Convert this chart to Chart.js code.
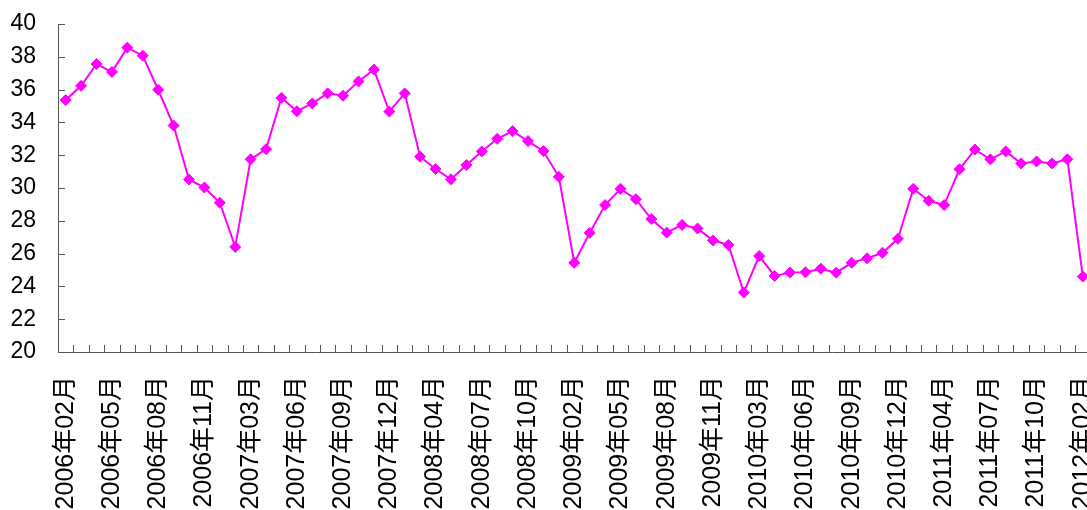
<!DOCTYPE html>
<html>
<head>
<meta charset="utf-8">
<script src="https://cdn.jsdelivr.net/npm/chart.js@4/dist/chart.umd.min.js"></script>
<style>
  html, body { margin: 0; padding: 0; background: #fff; overflow: hidden; }
  body { width: 1087px; height: 510px; }
  #wrap { position: relative; width: 1097px; height: 510px; }
</style>
</head>
<body>
<div id="wrap"><canvas id="c"></canvas></div>
<script>
// Monthly series (January folded into February each year)
const categories = [
  '2006年02月','2006年03月','2006年04月','2006年05月','2006年06月','2006年07月','2006年08月','2006年09月','2006年10月','2006年11月','2006年12月',
  '2007年02月','2007年03月','2007年04月','2007年05月','2007年06月','2007年07月','2007年08月','2007年09月','2007年10月','2007年11月','2007年12月',
  '2008年02月','2008年03月','2008年04月','2008年05月','2008年06月','2008年07月','2008年08月','2008年09月','2008年10月','2008年11月','2008年12月',
  '2009年02月','2009年03月','2009年04月','2009年05月','2009年06月','2009年07月','2009年08月','2009年09月','2009年10月','2009年11月','2009年12月',
  '2010年02月','2010年03月','2010年04月','2010年05月','2010年06月','2010年07月','2010年08月','2010年09月','2010年10月','2010年11月','2010年12月',
  '2011年02月','2011年03月','2011年04月','2011年05月','2011年06月','2011年07月','2011年08月','2011年09月','2011年10月','2011年11月','2011年12月',
  '2012年02月'
];

const values = [
  35.36, 36.23, 37.56, 37.08, 38.56, 38.07, 35.99, 33.81, 30.52, 30.03, 29.10,
  26.41, 31.75, 32.37, 35.50, 34.68, 35.16, 35.77, 35.63, 36.50, 37.22, 34.66,
  35.77, 31.91, 31.16, 30.53, 31.40, 32.23, 33.00, 33.47, 32.86, 32.25, 30.68,
  25.44, 27.26, 28.96, 29.95, 29.32, 28.11, 27.28, 27.75, 27.53, 26.80, 26.53,
  23.63, 25.85, 24.64, 24.84, 24.86, 25.08, 24.84, 25.44, 25.71, 26.05, 26.90,
  29.95, 29.22, 28.96, 31.14, 32.35, 31.75, 32.23, 31.50, 31.62, 31.50, 31.75,
  24.60
];

const yTicks = [20, 22, 24, 26, 28, 30, 32, 34, 36, 38, 40];
const labelEvery = 3;

const FONT = '"Liberation Sans", Arial, "Noto Sans CJK SC", sans-serif';
const AXIS_COLOR = '#555555';

// Short inward tick marks on both axes
const innerTicks = {
  id: 'innerTicks',
  afterDraw(chart) {
    const { ctx, chartArea, scales } = chart;
    const xs = scales.x, ys = scales.y;
    ctx.save();
    ctx.strokeStyle = AXIS_COLOR;
    ctx.lineWidth = 1;
    ctx.beginPath();
    yTicks.forEach(v => {
      const y = Math.round(ys.getPixelForValue(v)) + 0.5;
      ctx.moveTo(chartArea.left, y);
      ctx.lineTo(chartArea.left + 7, y);
    });
    const step = xs.getPixelForValue(1) - xs.getPixelForValue(0);
    for (let i = 0; i <= categories.length; i++) {
      const x = Math.round(xs.getPixelForValue(i) - step / 2) + 0.5;
      ctx.moveTo(x, chartArea.bottom);
      ctx.lineTo(x, chartArea.bottom - 7);
    }
    ctx.stroke();
    ctx.restore();
  }
};

new Chart(document.getElementById('c'), {
  type: 'line',
  data: {
    labels: categories,
    datasets: [{
      data: values,
      borderColor: '#FF00FF',
      backgroundColor: '#FF00FF',
      borderWidth: 2,
      pointStyle: 'rectRot',
      pointRadius: 5.5,
      pointHoverRadius: 5.5,
      pointBorderWidth: 1,
      tension: 0,
      clip: false
    }]
  },
  options: {
    responsive: true,
    maintainAspectRatio: false,
    animation: false,
    layout: { padding: { top: 24, right: 0, left: 0, bottom: 0 } },
    plugins: { legend: { display: false }, tooltip: { enabled: false } },
    scales: {
      x: {
        offset: true,
        grid: { display: true, drawOnChartArea: false, drawTicks: false },
        border: { display: true, color: AXIS_COLOR, width: 1 },
        ticks: {
          autoSkip: false,
          minRotation: 90,
          maxRotation: 90,
          padding: 24,
          color: '#000',
          font: { family: FONT, size: 25 },
          callback(val, idx) { return idx % labelEvery === 0 ? categories[idx] : ''; }
        },
        afterFit(scale) {
          scale.height = 158;
          scale.paddingLeft = 0;
          scale.paddingRight = 0;
        }
      },
      y: {
        min: 20,
        max: 40,
        grid: { display: true, drawOnChartArea: false, drawTicks: false },
        border: { display: true, color: AXIS_COLOR, width: 1 },
        ticks: {
          stepSize: 2,
          padding: 22,
          color: '#000',
          font: { family: FONT, size: 23 }
        },
        afterFit(scale) {
          scale.width = 58;
          scale.paddingTop = 0;
          scale.paddingBottom = 0;
        }
      }
    }
  },
  plugins: [innerTicks]
});
</script>
</body>
</html>
